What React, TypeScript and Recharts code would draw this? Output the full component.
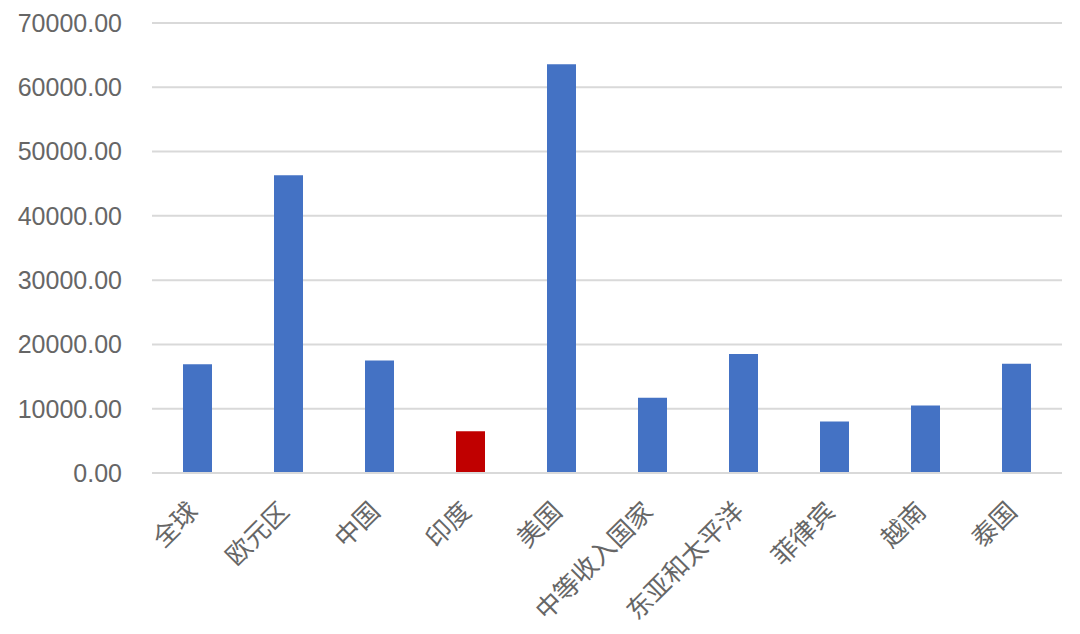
import React from "react";
import { BarChart, Bar, XAxis, YAxis, CartesianGrid, Cell } from "recharts";

const categories = ["全球", "欧元区", "中国", "印度", "美国", "中等收入国家", "东亚和太平洋", "菲律宾", "越南", "泰国"];
const values = [16900, 46300, 17500, 6500, 63600, 11700, 18500, 8000, 10500, 17000];
const highlight = ["印度"];
const yTicks = [0, 10000, 20000, 30000, 40000, 50000, 60000, 70000];

const data = categories.map((name, i) => ({ name, value: values[i] }));

const FONT = "'Liberation Sans', Arial, 'Noto Sans CJK SC', sans-serif";

const XTick = (props: any) => {
  const { x, y, payload } = props;
  return (
    <g transform={`translate(${x - 15},${y + 15})`}>
      <text
        x={0}
        y={0}
        dy={0}
        textAnchor="end"
        dominantBaseline="hanging"
        transform="rotate(-45)"
        fill="#666666"
        fontSize={25.5}
        fontFamily="'Noto Sans CJK SC', sans-serif"
      >
        {payload.value}
      </text>
    </g>
  );
};

export default function App() {
  return (
    <div style={{ position: "absolute", left: 0, top: 0, width: 1080, height: 634, background: "#fff" }}>
      <BarChart
        width={1080}
        height={634}
        data={data}
        margin={{ top: 23, right: 18, bottom: 0, left: 0 }}
      >
        <CartesianGrid vertical={false} stroke="#D9D9D9" strokeWidth={2} />
        <XAxis
          dataKey="name"
          interval={0}
          axisLine={{ stroke: "#D9D9D9", strokeWidth: 2 }}
          tickLine={false}
          tick={<XTick />}
          height={161}
        />
        <YAxis
          domain={[0, 70000]}
          ticks={yTicks}
          interval={0}
          width={152}
          axisLine={false}
          tickLine={false}
          tickSize={0}
          tickMargin={30}
          tickFormatter={(v: number) => v.toFixed(2)}
          tick={{ fill: "#666666", fontSize: 25, fontFamily: FONT }}
        />
        <Bar dataKey="value" barSize={29} isAnimationActive={false}>
          {data.map((d, i) => (
            <Cell key={i} fill={highlight.includes(d.name) ? "#C00000" : "#4472C4"} />
          ))}
        </Bar>
      </BarChart>
    </div>
  );
}
